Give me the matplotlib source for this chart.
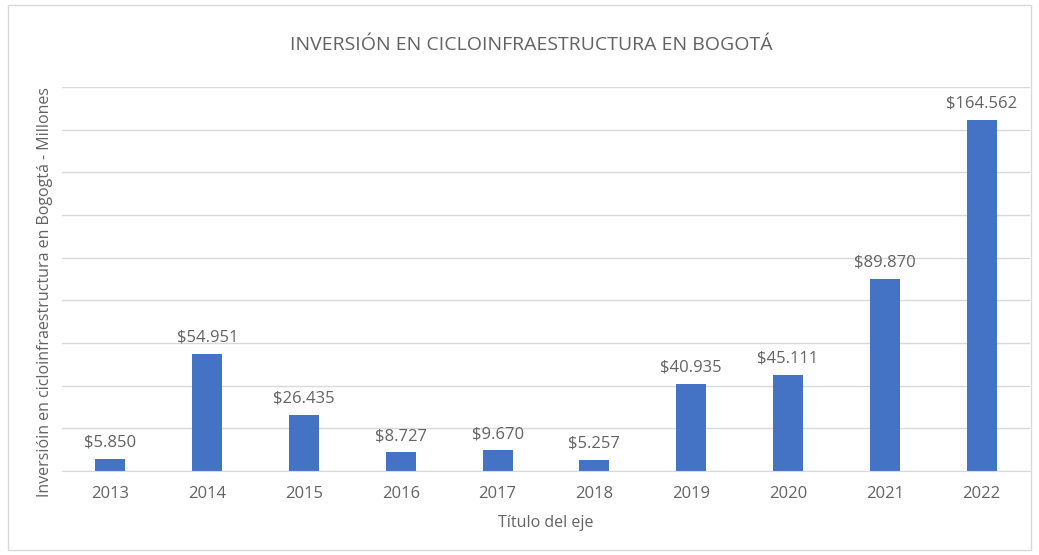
import matplotlib
matplotlib.use("Agg")
import matplotlib.pyplot as plt
from matplotlib.patches import Rectangle

years = ["2013", "2014", "2015", "2016", "2017", "2018", "2019", "2020", "2021", "2022"]
investment = [5850, 54951, 26435, 8727, 9670, 5257, 40935, 45111, 89870, 164562]

title = "INVERSIÓN EN CICLOINFRAESTRUCTURA EN BOGOTÁ"
ylabel = "Inversióin en cicloinfraestructura en Bogogtá - Millones"
xlabel = "Título del eje"

text_color = "#636363"
grid_color = "#d9d9d9"
bar_color = "#4472c4"

plt.rcParams["font.family"] = ["Open Sans", "DejaVu Sans"]

fig = plt.figure(figsize=(10.39, 5.55), dpi=100)
ax = fig.add_axes([62 / 1039, 1 - 471 / 555, (1030 - 62) / 1039, (471 - 87) / 555])

x = list(range(len(years)))
ax.bar(x, investment, width=0.31, color=bar_color, zorder=3)

def fmt(v):
    return "$" + f"{v:,}".replace(",", ".")

for xi, v in zip(x, investment):
    ax.annotate(fmt(v), (xi, v), xytext=(0, 6), textcoords="offset points",
                ha="center", va="bottom", fontsize=12, color=text_color)

ax.set_xlim(-0.5, len(years) - 0.5)
ax.set_ylim(0, 180000)
ax.set_yticks(range(0, 180001, 20000))
ax.set_yticklabels([])
ax.tick_params(axis="y", length=0)
ax.grid(axis="y", color=grid_color, linewidth=1, zorder=0)

ax.set_xticks(x)
ax.set_xticklabels(years, fontsize=12, color=text_color)
ax.tick_params(axis="x", length=0, pad=11)

for side in ["top", "right", "left"]:
    ax.spines[side].set_visible(False)
ax.spines["bottom"].set_color(grid_color)
ax.spines["bottom"].set_zorder(4)

fig.text(531 / 1039, 1 - 45 / 555, title, ha="center", va="center",
         fontsize=14, color=text_color)
fig.text(546 / 1039, 1 - 523 / 555, xlabel, ha="center", va="center",
         fontsize=11.5, color=text_color)
fig.text(45 / 1039, 1 - 292 / 555, ylabel, ha="center", va="center",
         rotation=90, fontsize=11.5, color=text_color)

fig.patches.append(Rectangle((8 / 1039, 5 / 555), 1 - 16 / 1039, 1 - 10 / 555,
                             transform=fig.transFigure, fill=False,
                             edgecolor=grid_color, linewidth=1))

fig.savefig("out.png", dpi=100, facecolor="white")
